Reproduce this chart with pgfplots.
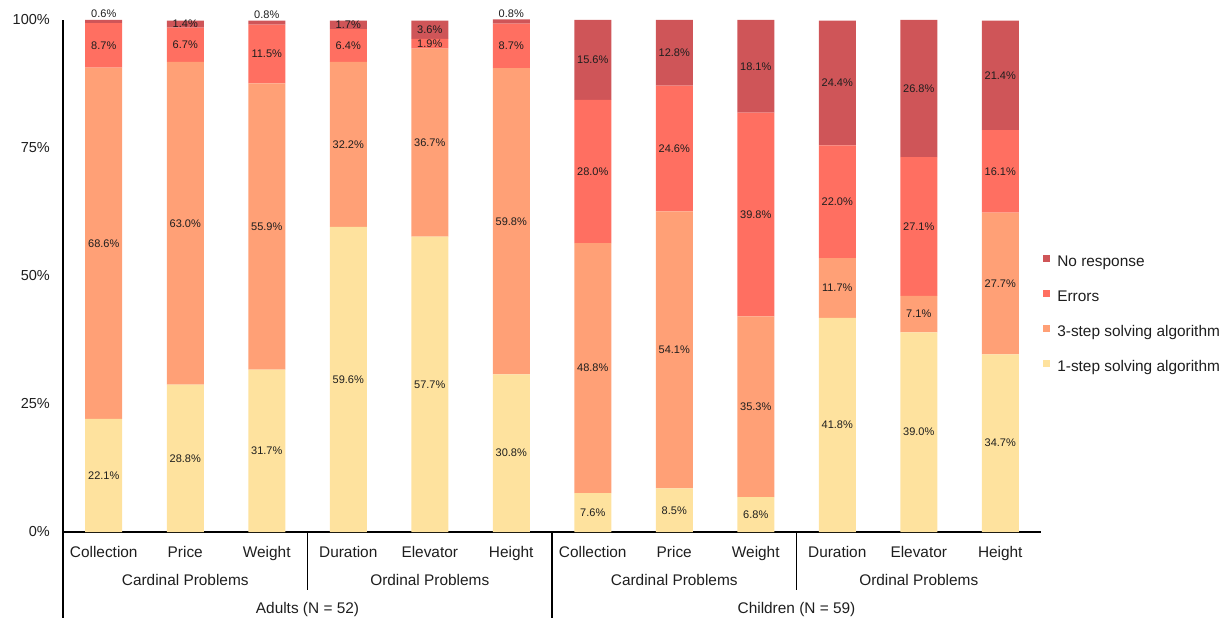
\documentclass[border=0pt]{standalone}
\usepackage{pgfplots}
\pgfplotsset{compat=1.18}
\usepackage{pgfplotstable}
\usepackage{fontspec}
\setmainfont{Liberation Sans}
\definecolor{cOne}{RGB}{254,226,158}
\definecolor{cThree}{RGB}{255,160,118}
\definecolor{cErr}{RGB}{255,111,97}
\definecolor{cNo}{RGB}{207,85,88}
\definecolor{txt}{RGB}{30,30,30}
\pgfplotstableread{
x one three err nr
0 22.1 68.6 8.7 0.6
1 28.8 63.0 6.7 1.4
2 31.7 55.9 11.5 0.8
3 59.6 32.2 6.4 1.7
4 57.7 36.7 1.9 3.6
5 30.8 59.8 8.7 0.8
6 7.6 48.8 28.0 15.6
7 8.5 54.1 24.6 12.8
8 6.8 35.3 39.8 18.1
9 41.8 11.7 22.0 24.4
10 39.0 7.1 27.1 26.8
11 34.7 27.7 16.1 21.4
}\data
\newcommand{\lab}{\fontsize{15.4}{18}\selectfont}
\pgfplotsset{
  base/.style={
    scale only axis, width=978pt, height=512pt,
    xmin=-0.5, xmax=11.5, ymin=0, ymax=100,
    clip=false,
    /pgf/number format/assume math mode=true,
  },
  vlab/.style={draw=none, mark=none, point meta=explicit,
    nodes near coords={\pgfmathprintnumber[fixed,fixed zerofill,precision=1]{\pgfplotspointmeta}\%},
    nodes near coords style={font=\fontsize{11}{12}\selectfont, text=txt, anchor=center, inner sep=0pt}},
}
\begin{document}
\begin{tikzpicture}
\begin{axis}[
  base,
  ybar stacked, bar width=37pt,
  axis x line*=bottom, axis y line*=left,
  axis line style={line width=1.2pt, black},
  major tick length=0pt,
  xtick={0,...,11},
  xticklabels={Collection,Price,Weight,Duration,Elevator,Height,Collection,Price,Weight,Duration,Elevator,Height},
  xticklabel style={anchor=base, yshift=-25pt, font=\lab, text=txt},
  ytick={0,25,50,75,100},
  yticklabels={0\%,25\%,50\%,75\%,100\%},
  yticklabel style={anchor=east, inner sep=0pt, xshift=-13pt, font=\fontsize{14.5}{17}\selectfont, text=txt},
  legend image code/.code={\fill[#1] (0pt,1.5pt) rectangle (7pt,8.5pt);},
  reverse legend,
  legend style={at={(1,0.4258)}, anchor=west, xshift=2.3pt, yshift=-1pt, draw=none, fill=none,
     inner sep=0pt, outer sep=0pt, font=\lab, text=txt,
     nodes={inner sep=0pt, text height=11pt, text depth=3.5pt},
     row sep=19.2pt, column sep=7pt,
     cells={anchor=west}},
]
\addplot[fill=cOne, draw=none] table[x=x, y=one] {\data};
\addplot[fill=cThree, draw=none] table[x=x, y=three] {\data};
\addplot[fill=cErr, draw=none] table[x=x, y=err] {\data};
\addplot[fill=cNo, draw=none] table[x=x, y=nr] {\data};
\legend{1-step solving algorithm,3-step solving algorithm,Errors,No response}
\coordinate (sw) at (rel axis cs:0,0);
\draw[line width=1.2pt] (axis cs:-0.5,0) -- ++(0pt,-86pt);
\draw[line width=1.2pt] (axis cs:2.5,0) -- ++(0pt,-58pt);
\draw[line width=1.2pt] (axis cs:5.5,0) -- ++(0pt,-86pt);
\draw[line width=1.2pt] (axis cs:8.5,0) -- ++(0pt,-58pt);
\node[anchor=base, font=\lab, text=txt] at ([yshift=-53pt]axis cs:1,0) {Cardinal Problems};
\node[anchor=base, font=\lab, text=txt] at ([yshift=-53pt]axis cs:4,0) {Ordinal Problems};
\node[anchor=base, font=\lab, text=txt] at ([yshift=-53pt]axis cs:7,0) {Cardinal Problems};
\node[anchor=base, font=\lab, text=txt] at ([yshift=-53pt]axis cs:10,0) {Ordinal Problems};
\node[anchor=base, font=\lab, text=txt] at ([yshift=-81pt]axis cs:2.5,0) {Adults (N = 52)};
\node[anchor=base, font=\lab, text=txt] at ([yshift=-81pt]axis cs:8.5,0) {Children (N = 59)};
\end{axis}
\begin{axis}[base, hide axis]
\addplot[vlab] table[x=x, y expr=\thisrow{one}/2, meta=one] {\data};
\addplot[vlab] table[x=x, y expr=\thisrow{one}+\thisrow{three}/2, meta=three] {\data};
\addplot[vlab] table[x=x, y expr=\thisrow{one}+\thisrow{three}+\thisrow{err}/2, meta=err] {\data};
\addplot[vlab, visualization depends on={\thisrow{nr} \as \rawv},
  nodes near coords style={yshift={(\rawv<1)*7.5}}]
  table[x=x, y expr=\thisrow{one}+\thisrow{three}+\thisrow{err}+\thisrow{nr}/2, meta=nr] {\data};
\end{axis}
\pgfresetboundingbox
\path[use as bounding box] ([shift={(-63pt,-90pt)}]sw) rectangle ([shift={(1166pt,532pt)}]sw);
\end{tikzpicture}
\end{document}
